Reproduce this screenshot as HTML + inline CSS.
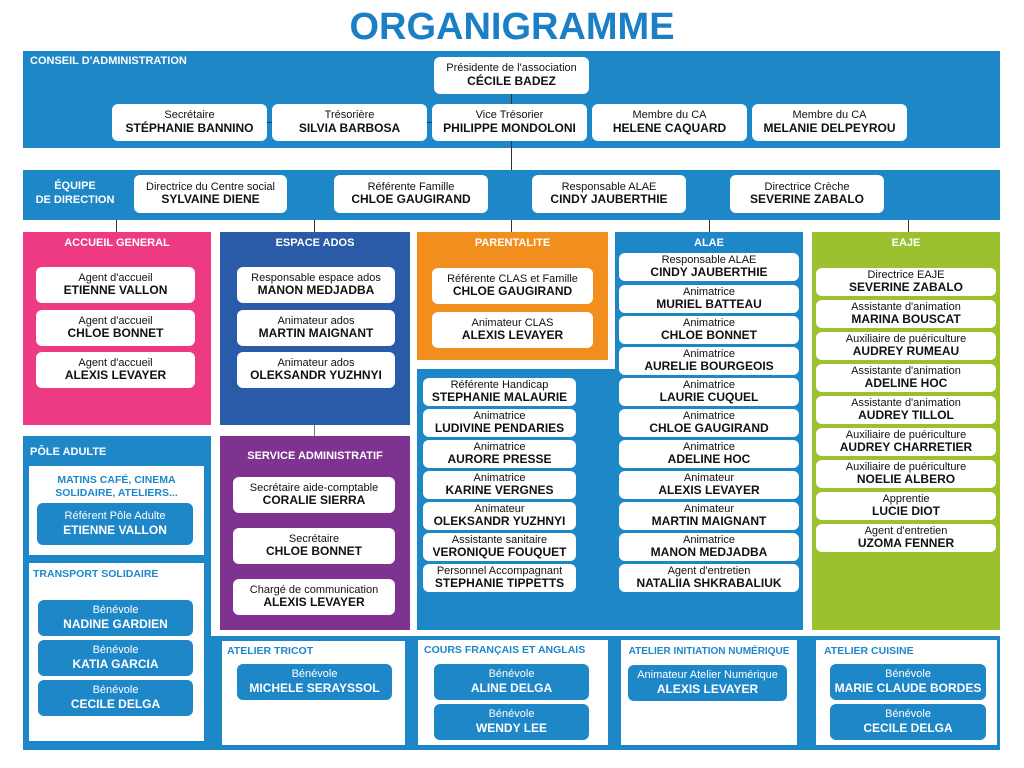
<!DOCTYPE html>
<html><head><meta charset="utf-8"><style>
*{margin:0;padding:0;box-sizing:border-box}
body{width:1024px;height:768px;background:#fff;position:relative;overflow:hidden;font-family:"Liberation Sans",sans-serif}
div{position:absolute}
.t{left:0;width:1024px;top:6px;text-align:center;font-size:38px;font-weight:bold;color:#1a7fc4;letter-spacing:0px}
.b{background:#fff;border-radius:6px;text-align:center;color:#111;display:flex;flex-direction:column;justify-content:center;line-height:1.15}
.b span{font-size:11px}
.b b{font-size:12px}
.c{background:#1e87c8;border-radius:6px;text-align:center;color:#fff;display:flex;flex-direction:column;justify-content:center;line-height:1.2}
.c span{font-size:11px}.c b{font-size:12px}
.h{color:#fff;font-size:11px;font-weight:bold;text-align:center}
.w{background:#fff}
.l{background:#333}
.bl{background:#1e87c8}
.ht{color:#1e87c8;font-size:10.5px;font-weight:bold}
</style></head><body>
<div class="t">ORGANIGRAMME</div>

<div class="bl" style="left:23px;top:51px;width:977px;height:97px"></div>
<div class="h" style="left:30px;top:55px;text-align:left">CONSEIL D'ADMINISTRATION</div>
<div class="l" style="left:511px;top:94px;width:1px;height:76px"></div>
<div class="l" style="left:267px;top:122px;width:5px;height:1px"></div>
<div class="l" style="left:427px;top:122px;width:5px;height:1px"></div>
<div class="b" style="left:434px;top:57px;width:155px;height:37px"><span>Présidente de l'association</span><b>CÉCILE BADEZ</b></div>
<div class="b" style="left:112px;top:104px;width:155px;height:37px"><span>Secrétaire</span><b>STÉPHANIE BANNINO</b></div>
<div class="b" style="left:272px;top:104px;width:155px;height:37px"><span>Trésorière</span><b>SILVIA BARBOSA</b></div>
<div class="b" style="left:432px;top:104px;width:155px;height:37px"><span>Vice Trésorier</span><b>PHILIPPE MONDOLONI</b></div>
<div class="b" style="left:592px;top:104px;width:155px;height:37px"><span>Membre du CA</span><b>HELENE CAQUARD</b></div>
<div class="b" style="left:752px;top:104px;width:155px;height:37px"><span>Membre du CA</span><b>MELANIE DELPEYROU</b></div>

<div class="bl" style="left:23px;top:170px;width:977px;height:50px"></div>
<div class="h" style="left:30px;top:179px;width:90px;line-height:14px">ÉQUIPE<br>DE DIRECTION</div>
<div class="b" style="left:134px;top:175px;width:153px;height:38px"><span>Directrice du Centre social</span><b>SYLVAINE DIENE</b></div>
<div class="b" style="left:334px;top:175px;width:154px;height:38px"><span>Référente Famille</span><b>CHLOE GAUGIRAND</b></div>
<div class="b" style="left:532px;top:175px;width:154px;height:38px"><span>Responsable ALAE</span><b>CINDY JAUBERTHIE</b></div>
<div class="b" style="left:730px;top:175px;width:154px;height:38px"><span>Directrice Crèche</span><b>SEVERINE ZABALO</b></div>
<div class="l" style="left:116px;top:220px;width:1px;height:12px"></div>
<div class="l" style="left:314px;top:220px;width:1px;height:12px"></div>
<div class="l" style="left:511px;top:220px;width:1px;height:12px"></div>
<div class="l" style="left:709px;top:220px;width:1px;height:12px"></div>
<div class="l" style="left:908px;top:220px;width:1px;height:12px"></div>

<!-- Accueil -->
<div style="left:23px;top:232px;width:188px;height:193px;background:#ee3a83"></div>
<div class="h" style="left:23px;top:237px;width:188px">ACCUEIL GENERAL</div>
<div class="b" style="left:36px;top:267px;width:159px;height:36px"><span>Agent d'accueil</span><b>ETIENNE VALLON</b></div>
<div class="b" style="left:36px;top:310px;width:159px;height:36px"><span>Agent d'accueil</span><b>CHLOE BONNET</b></div>
<div class="b" style="left:36px;top:352px;width:159px;height:36px"><span>Agent d'accueil</span><b>ALEXIS LEVAYER</b></div>

<!-- Espace ados -->
<div style="left:220px;top:232px;width:190px;height:193px;background:#2a5ba8"></div>
<div class="h" style="left:220px;top:237px;width:190px">ESPACE ADOS</div>
<div class="b" style="left:237px;top:267px;width:158px;height:36px"><span>Responsable espace ados</span><b>MANON MEDJADBA</b></div>
<div class="b" style="left:237px;top:310px;width:158px;height:36px"><span>Animateur ados</span><b>MARTIN MAIGNANT</b></div>
<div class="b" style="left:237px;top:352px;width:158px;height:36px"><span>Animateur ados</span><b>OLEKSANDR YUZHNYI</b></div>
<div style="left:314px;top:425px;width:1px;height:11px;background:#777"></div>

<!-- Service admin -->
<div style="left:220px;top:436px;width:190px;height:194px;background:#7f3390"></div>
<div class="h" style="left:220px;top:450px;width:190px">SERVICE ADMINISTRATIF</div>
<div class="b" style="left:233px;top:477px;width:162px;height:36px"><span>Secrétaire aide-comptable</span><b>CORALIE SIERRA</b></div>
<div class="b" style="left:233px;top:528px;width:162px;height:36px"><span>Secrétaire</span><b>CHLOE BONNET</b></div>
<div class="b" style="left:233px;top:579px;width:162px;height:36px"><span>Chargé de communication</span><b>ALEXIS LEVAYER</b></div>

<!-- Parentalite -->
<div style="left:417px;top:232px;width:191px;height:128px;background:#f28e1e"></div>
<div class="h" style="left:417px;top:237px;width:191px">PARENTALITE</div>
<div class="b" style="left:432px;top:268px;width:161px;height:36px"><span>Référente CLAS et Famille</span><b>CHLOE GAUGIRAND</b></div>
<div class="b" style="left:432px;top:312px;width:161px;height:36px"><span>Animateur CLAS</span><b>ALEXIS LEVAYER</b></div>

<!-- lower blue -->
<div class="bl" style="left:417px;top:369px;width:198px;height:261px"></div>
<div class="b" style="left:423px;top:378px;width:153px;height:28px"><span>Référente Handicap</span><b>STEPHANIE MALAURIE</b></div>
<div class="b" style="left:423px;top:409px;width:153px;height:28px"><span>Animatrice</span><b>LUDIVINE PENDARIES</b></div>
<div class="b" style="left:423px;top:440px;width:153px;height:28px"><span>Animatrice</span><b>AURORE PRESSE</b></div>
<div class="b" style="left:423px;top:471px;width:153px;height:28px"><span>Animatrice</span><b>KARINE VERGNES</b></div>
<div class="b" style="left:423px;top:502px;width:153px;height:28px"><span>Animateur</span><b>OLEKSANDR YUZHNYI</b></div>
<div class="b" style="left:423px;top:533px;width:153px;height:28px"><span>Assistante sanitaire</span><b>VERONIQUE FOUQUET</b></div>
<div class="b" style="left:423px;top:564px;width:153px;height:28px"><span>Personnel Accompagnant</span><b>STEPHANIE TIPPETTS</b></div>

<!-- ALAE -->
<div class="bl" style="left:615px;top:232px;width:188px;height:398px"></div>
<div class="h" style="left:615px;top:237px;width:188px">ALAE</div>
<div class="b" style="left:619px;top:253px;width:180px;height:28px"><span>Responsable ALAE</span><b>CINDY JAUBERTHIE</b></div>
<div class="b" style="left:619px;top:285px;width:180px;height:28px"><span>Animatrice</span><b>MURIEL BATTEAU</b></div>
<div class="b" style="left:619px;top:316px;width:180px;height:28px"><span>Animatrice</span><b>CHLOE BONNET</b></div>
<div class="b" style="left:619px;top:347px;width:180px;height:28px"><span>Animatrice</span><b>AURELIE BOURGEOIS</b></div>
<div class="b" style="left:619px;top:378px;width:180px;height:28px"><span>Animatrice</span><b>LAURIE CUQUEL</b></div>
<div class="b" style="left:619px;top:409px;width:180px;height:28px"><span>Animatrice</span><b>CHLOE GAUGIRAND</b></div>
<div class="b" style="left:619px;top:440px;width:180px;height:28px"><span>Animatrice</span><b>ADELINE HOC</b></div>
<div class="b" style="left:619px;top:471px;width:180px;height:28px"><span>Animateur</span><b>ALEXIS LEVAYER</b></div>
<div class="b" style="left:619px;top:502px;width:180px;height:28px"><span>Animateur</span><b>MARTIN MAIGNANT</b></div>
<div class="b" style="left:619px;top:533px;width:180px;height:28px"><span>Animatrice</span><b>MANON MEDJADBA</b></div>
<div class="b" style="left:619px;top:564px;width:180px;height:28px"><span>Agent d'entretien</span><b>NATALIIA SHKRABALIUK</b></div>

<!-- EAJE -->
<div style="left:812px;top:232px;width:188px;height:398px;background:#9bc22e"></div>
<div class="h" style="left:812px;top:237px;width:188px">EAJE</div>
<div class="b" style="left:816px;top:268px;width:180px;height:28px"><span>Directrice EAJE</span><b>SEVERINE ZABALO</b></div>
<div class="b" style="left:816px;top:300px;width:180px;height:28px"><span>Assistante d'animation</span><b>MARINA BOUSCAT</b></div>
<div class="b" style="left:816px;top:332px;width:180px;height:28px"><span>Auxiliaire de puériculture</span><b>AUDREY RUMEAU</b></div>
<div class="b" style="left:816px;top:364px;width:180px;height:28px"><span>Assistante d'animation</span><b>ADELINE HOC</b></div>
<div class="b" style="left:816px;top:396px;width:180px;height:28px"><span>Assistante d'animation</span><b>AUDREY TILLOL</b></div>
<div class="b" style="left:816px;top:428px;width:180px;height:28px"><span>Auxiliaire de puériculture</span><b>AUDREY CHARRETIER</b></div>
<div class="b" style="left:816px;top:460px;width:180px;height:28px"><span>Auxiliaire de puériculture</span><b>NOELIE ALBERO</b></div>
<div class="b" style="left:816px;top:492px;width:180px;height:28px"><span>Apprentie</span><b>LUCIE DIOT</b></div>
<div class="b" style="left:816px;top:524px;width:180px;height:28px"><span>Agent d'entretien</span><b>UZOMA FENNER</b></div>

<!-- Pole adulte -->
<div class="bl" style="left:23px;top:436px;width:188px;height:314px"></div>
<div class="h" style="left:30px;top:446px;text-align:left">PÔLE ADULTE</div>
<div class="w" style="left:29px;top:466px;width:175px;height:89px"></div>
<div class="ht" style="left:29px;top:474px;width:175px;text-align:center;line-height:13px">MATINS CAFÉ, CINEMA<br>SOLIDAIRE, ATELIERS...</div>
<div class="c" style="left:37px;top:503px;width:156px;height:42px"><span>Référent Pôle Adulte</span><b>ETIENNE VALLON</b></div>
<div class="w" style="left:29px;top:563px;width:175px;height:178px"></div>
<div class="ht" style="left:33px;top:568px">TRANSPORT SOLIDAIRE</div>
<div class="c" style="left:38px;top:600px;width:155px;height:36px"><span>Bénévole</span><b>NADINE GARDIEN</b></div>
<div class="c" style="left:38px;top:640px;width:155px;height:36px"><span>Bénévole</span><b>KATIA GARCIA</b></div>
<div class="c" style="left:38px;top:680px;width:155px;height:36px"><span>Bénévole</span><b>CECILE DELGA</b></div>

<!-- bottom strip -->
<div class="bl" style="left:211px;top:636px;width:789px;height:114px"></div>
<div class="w" style="left:222px;top:641px;width:183px;height:104px"></div>
<div class="w" style="left:418px;top:640px;width:190px;height:105px"></div>
<div class="w" style="left:621px;top:640px;width:176px;height:105px"></div>
<div class="w" style="left:816px;top:640px;width:181px;height:105px"></div>
<div class="ht" style="left:227px;top:645px">ATELIER TRICOT</div>
<div class="ht" style="left:424px;top:644px">COURS FRANÇAIS ET ANGLAIS</div>
<div class="ht" style="left:621px;top:646px;width:176px;text-align:center;font-size:10px">ATELIER INITIATION NUMÉRIQUE</div>
<div class="ht" style="left:824px;top:645px">ATELIER CUISINE</div>
<div class="c" style="left:237px;top:664px;width:155px;height:36px"><span>Bénévole</span><b>MICHELE SERAYSSOL</b></div>
<div class="c" style="left:434px;top:664px;width:155px;height:36px"><span>Bénévole</span><b>ALINE DELGA</b></div>
<div class="c" style="left:434px;top:704px;width:155px;height:36px"><span>Bénévole</span><b>WENDY LEE</b></div>
<div class="c" style="left:628px;top:665px;width:159px;height:36px"><span>Animateur Atelier Numérique</span><b>ALEXIS LEVAYER</b></div>
<div class="c" style="left:830px;top:664px;width:156px;height:36px"><span>Bénévole</span><b>MARIE CLAUDE BORDES</b></div>
<div class="c" style="left:830px;top:704px;width:156px;height:36px"><span>Bénévole</span><b>CECILE DELGA</b></div>
</body></html>
